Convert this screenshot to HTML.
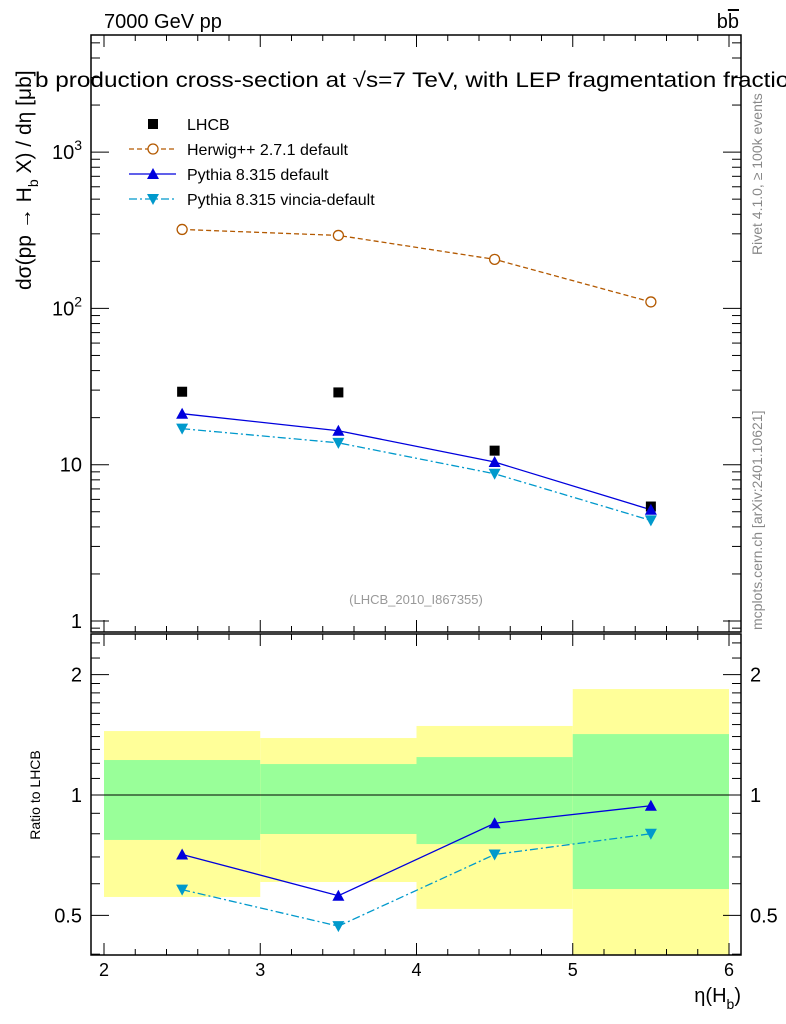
<!DOCTYPE html>
<html><head><meta charset="utf-8"><style>
html,body{margin:0;padding:0;background:#fff;}
svg{display:block;font-family:"Liberation Sans",sans-serif;}
</style></head><body>
<svg id="chart" width="786" height="1024" viewBox="0 0 786 1024" xmlns="http://www.w3.org/2000/svg">
<defs>
<clipPath id="mainclip"><rect x="91" y="35" width="650" height="597"/></clipPath>
<clipPath id="ratioclip"><rect x="91" y="634" width="650" height="321"/></clipPath>
</defs>
<g id="bands" clip-path="url(#ratioclip)"></g>
<g id="axes"></g>
<g id="marks"></g>
<text x="104" y="28" font-size="20">7000 GeV pp</text>
<text x="739" y="28" font-size="20" text-anchor="end">b<tspan text-decoration="overline">b</tspan></text>
<text x="35" y="87" font-size="21" textLength="780" lengthAdjust="spacingAndGlyphs">b production cross-section at √s=7 TeV, with LEP fragmentation fractions</text>
<text x="416" y="604" font-size="13" fill="#999" text-anchor="middle">(LHCB_2010_I867355)</text>
<text transform="translate(31,290) rotate(-90)" font-size="21" text-anchor="start">dσ(pp → H<tspan font-size="14" dy="7">b</tspan><tspan dy="-7"> X) / dη [μb]</tspan></text>
<text transform="translate(40,795) rotate(-90)" font-size="14" text-anchor="middle">Ratio to LHCB</text>
<text x="741" y="1002" font-size="20" text-anchor="end">η(H<tspan font-size="14" dy="7">b</tspan><tspan dy="-7">)</tspan></text>
<text transform="translate(762,255) rotate(-90)" font-size="14" fill="#888">Rivet 4.1.0, ≥ 100k events</text>
<text transform="translate(762,630) rotate(-90)" font-size="14" fill="#888">mcplots.cern.ch [arXiv:2401.10621]</text>
<g id="legend"></g>
</svg>
<script>
const xCenters=[2.5,3.5,4.5,5.5];
const binEdges=[2,3,4,5,6];
const lhcb=[29.3,29.0,12.3,5.4];
const herwig=[320,293,206,110];
const pythia=[21.2,16.5,10.4,5.15];
const vincia=[17.0,13.8,8.75,4.4];
const ratioPythia=[0.71,0.56,0.85,0.94];
const ratioVincia=[0.58,0.47,0.71,0.80];
const bandYellowHi=[1.445,1.388,1.488,1.84];
const bandYellowLo=[0.556,0.606,0.519,0.38];
const bandGreenHi=[1.223,1.195,1.244,1.42];
const bandGreenLo=[0.772,0.799,0.754,0.582];
const xTicks=[2,3,4,5,6];
const mainTickLabels=["1","10","10²","10³"];
const ratioTicks=[0.5,1,2];

const NS="http://www.w3.org/2000/svg";
const X=v=>104+(v-2)*156.25;
const Y=v=>621-Math.log10(v)*156.3;
const R=v=>795-Math.log10(v)*400;
function el(tag,attrs,parent){const e=document.createElementNS(NS,tag);for(const k in attrs)e.setAttribute(k,attrs[k]);parent.appendChild(e);return e;}
const axes=document.getElementById('axes'),marks=document.getElementById('marks'),bands=document.getElementById('bands'),legend=document.getElementById('legend');

for(let i=0;i<4;i++){
 const x0=X(binEdges[i]),x1=X(binEdges[i+1]);
 let r=el('rect',{x:x0,y:R(bandYellowHi[i]),width:x1-x0,height:R(bandYellowLo[i])-R(bandYellowHi[i]),fill:'#ffff99'},bands);
 
 
 let g=el('rect',{x:x0,y:R(bandGreenHi[i]),width:x1-x0,height:R(bandGreenLo[i])-R(bandGreenHi[i]),fill:'#99ff99'},bands);
 
 
}
el('rect',{x:91,y:35,width:650,height:597,fill:'none',stroke:'#000','stroke-width':1.5},axes);
el('rect',{x:91,y:634,width:650,height:321,fill:'none',stroke:'#000','stroke-width':1.5},axes);
el('line',{x1:91,x2:741,y1:R(1),y2:R(1),stroke:'#000','stroke-width':1},axes);
for(let v=2;v<=6.001;v+=0.2){
 const major=Math.abs(v-Math.round(v))<1e-6;const L=major?12:6;const x=X(v);
 [[35,1],[632,-1],[634,1],[955,-1]].forEach(([y,d])=>el('line',{x1:x,x2:x,y1:y,y2:y+d*L,stroke:'#000','stroke-width':1},axes));
}
xTicks.forEach(v=>{const t=el('text',{x:X(v),y:976,'font-size':18,'text-anchor':'middle'},axes);t.textContent=v;});
for(let d=0;d<=3;d++){for(let m=1;m<=9;m++){const v=m*Math.pow(10,d);const y=Y(v);if(y<35)continue;const L=m==1?18:9;
 el('line',{x1:91,x2:91+L,y1:y,y2:y,stroke:'#000'},axes);el('line',{x1:741,x2:741-L,y1:y,y2:y,stroke:'#000'},axes);}}
el('line',{x1:91,x2:100,y1:Y(0.9),y2:Y(0.9),stroke:'#000'},axes);el('line',{x1:741,x2:732,y1:Y(0.9),y2:Y(0.9),stroke:'#000'},axes);
mainTickLabels.forEach((s,i)=>{const t=el('text',{x:82,y:Y(Math.pow(10,i))+7,'font-size':20,'text-anchor':'end'},axes);
 if(i<2)t.textContent=s;else{t.textContent='10';const ts=el('tspan',{dy:-9,'font-size':14},t);ts.textContent=String(i);}
 });
[0.4,0.5,0.6,0.7,0.8,0.9,1,2].forEach(v=>{const y=R(v);const L=(v==0.5||v==1||v==2)?18:9;if(y>955)return;
 el('line',{x1:91,x2:91+L,y1:y,y2:y,stroke:'#000'},axes);el('line',{x1:741,x2:741-L,y1:y,y2:y,stroke:'#000'},axes);});
[1.1,1.2,1.3,1.4,1.5,1.6,1.7,1.8,1.9,2.2,2.4].forEach(v=>{const y=R(v);if(y<634)return;el('line',{x1:91,x2:100,y1:y,y2:y,stroke:'#000'},axes);el('line',{x1:741,x2:732,y1:y,y2:y,stroke:'#000'},axes);});
ratioTicks.forEach(v=>{[[82,'end'],[750,'start']].forEach(([x,a])=>{const t=el('text',{x:x,y:R(v)+7,'font-size':20,'text-anchor':a},axes);t.textContent=v;});});

function line(vals,yf,color,dash,name,clip){
 const p=el('polyline',{points:vals.map((v,i)=>X(xCenters[i])+','+yf(v)).join(' '),fill:'none',stroke:color,'stroke-width':1.3,'stroke-dasharray':dash,'clip-path':clip},marks);
 
}
function marker(type,x,y,color,name){
 let e;
 if(type=='sq')e=el('rect',{x:x-5,y:y-5,width:10,height:10,fill:'#000'},marks);
 else if(type=='circ')e=el('circle',{cx:x,cy:y,r:5,fill:'#fff',stroke:color,'stroke-width':1.3},marks);
 else if(type=='up')e=el('polygon',{points:`${x-6},${y+5} ${x+6},${y+5} ${x},${y-6}`,fill:color},marks);
 else e=el('polygon',{points:`${x-6},${y-5} ${x+6},${y-5} ${x},${y+6}`,fill:color},marks);
 
}
line(herwig,Y,'#b35900','5,3','herwig-line','url(#mainclip)');
line(pythia,Y,'#0000dd','','pythia-line','url(#mainclip)');
line(vincia,Y,'#0099cc','8,3,2,3','vincia-line','url(#mainclip)');
line(ratioPythia,R,'#0000dd','','ratio-pythia-line','url(#ratioclip)');
line(ratioVincia,R,'#0099cc','8,3,2,3','ratio-vincia-line','url(#ratioclip)');
xCenters.forEach((c,i)=>{const x=X(c);
 marker('sq',x,Y(lhcb[i]),'#000','lhcb-point');
 marker('circ',x,Y(herwig[i]),'#b35900','herwig-point');
 marker('up',x,Y(pythia[i]),'#0000dd','pythia-point');
 marker('down',x,Y(vincia[i]),'#0099cc','vincia-point');
 marker('up',x,R(ratioPythia[i]),'#0000dd','ratio-pythia-point');
 marker('down',x,R(ratioVincia[i]),'#0099cc','ratio-vincia-point');
});
const leg=[['LHCB','sq','#000',''],['Herwig++ 2.7.1 default','circ','#b35900','5,3'],['Pythia 8.315 default','up','#0000dd',''],['Pythia 8.315 vincia-default','down','#0099cc','8,3,2,3']];
leg.forEach((l,i)=>{const y=124+i*25;
 if(i>0){const ln=el('line',{x1:129,x2:176,y1:y,y2:y,stroke:l[2],'stroke-width':1.3,'stroke-dasharray':l[3]},legend);}
 let e;
 if(l[1]=='sq')e=el('rect',{x:148,y:y-5,width:10,height:10,fill:'#000'},legend);
 else if(l[1]=='circ')e=el('circle',{cx:153,cy:y,r:5,fill:'#fff',stroke:l[2],'stroke-width':1.3},legend);
 else if(l[1]=='up')e=el('polygon',{points:`147,${y+5} 159,${y+5} 153,${y-6}`,fill:l[2]},legend);
 else e=el('polygon',{points:`147,${y-5} 159,${y-5} 153,${y+6}`,fill:l[2]},legend);
 
 const t=el('text',{x:187,y:y+6,'font-size':16},legend);t.textContent=l[0];
 
});
</script>
</body></html>
